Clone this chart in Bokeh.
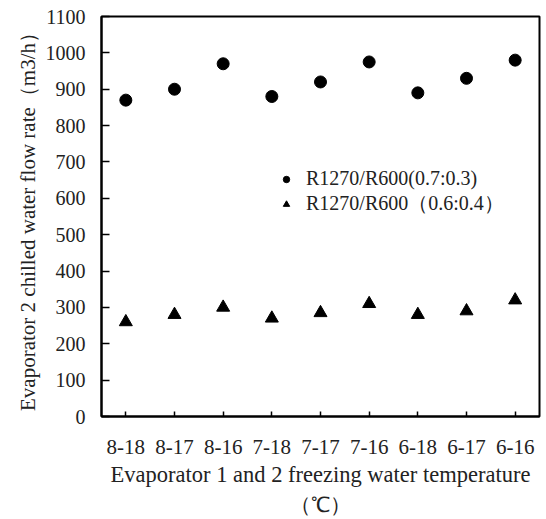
from bokeh.plotting import figure
from bokeh.models import FactorRange, Range1d, FixedTicker, Legend, LegendItem, ColumnDataSource, Title
from bokeh.embed import file_html
from bokeh.resources import INLINE

categories = ["8-18", "8-17", "8-16", "7-18", "7-17", "7-16", "6-18", "6-17", "6-16"]
series_a_name = "R1270/R600(0.7:0.3)"
series_a = [870, 900, 970, 880, 920, 975, 890, 930, 980]
series_b_name = "R1270/R600（0.6:0.4）"
series_b = [260, 280, 300, 270, 285, 310, 280, 290, 320]
y_ticks = [0, 100, 200, 300, 400, 500, 600, 700, 800, 900, 1000, 1100]
x_title_lines = ["Evaporator 1 and 2 freezing water temperature", "（℃）"]
y_title = "Evaporator 2 chilled water flow rate（m3/h）"

FONT = "Liberation Serif"
TXT = "#222222"

p = figure(width=546, height=519, output_backend="svg", toolbar_location=None,
           x_range=FactorRange(factors=categories, range_padding=0),
           y_range=Range1d(0, 1100),
           min_border_left=101, min_border_top=16, min_border_right=7, min_border_bottom=103)

src_a = ColumnDataSource(dict(x=categories, y=series_a))
src_b = ColumnDataSource(dict(x=categories, y=series_b))
ra = p.scatter("x", "y", source=src_a, marker="circle", size=12, color="black")
rb = p.scatter("x", "y", source=src_b, marker="triangle", size=13, color="black")

p.xgrid.visible = False
p.ygrid.visible = False
p.outline_line_color = "black"
p.outline_line_width = 2

p.yaxis.ticker = FixedTicker(ticks=y_ticks)
for ax in (p.xaxis[0], p.yaxis[0]):
    ax.axis_line_width = 2
    ax.axis_line_color = "black"
    ax.major_tick_line_color = "black"
    ax.major_tick_line_width = 1.5
    ax.major_tick_out = 0
    ax.minor_tick_line_color = None
    ax.major_label_text_font = FONT
    ax.major_label_text_color = TXT
    ax.axis_label_text_font = FONT
    ax.axis_label_text_font_style = "normal"
    ax.axis_label_text_color = TXT

p.yaxis.major_label_text_font_size = "20px"
p.yaxis.axis_label_text_font_size = "21px"
p.xaxis.major_label_text_font_size = "21px"

p.yaxis.major_tick_in = 8
p.yaxis.major_label_standoff = 16
p.yaxis.axis_label = y_title
p.yaxis.axis_label_standoff = 3

p.xaxis.major_tick_in = 5
p.xaxis.major_label_standoff = 23

# two-line x-axis title as stacked titles below the axis
t1 = Title(text=x_title_lines[0], align="center", offset=4, standoff=7,
           text_font=FONT, text_font_size="22.5px", text_font_style="normal", text_color=TXT)
t2 = Title(text=x_title_lines[1], align="center", offset=-3, standoff=0,
           text_font=FONT, text_font_size="21px", text_font_style="normal", text_color=TXT)
p.add_layout(t1, "below")
p.add_layout(t2, "below")

legend = Legend(items=[LegendItem(label=series_a_name, renderers=[ra]),
                       LegendItem(label=series_b_name, renderers=[rb])],
                location=(177, 199), padding=0, margin=0, spacing=0,
                glyph_width=16, glyph_height=22, label_height=22, label_standoff=12,
                label_text_font=FONT, label_text_font_size="20px", label_text_color=TXT,
                border_line_color=None, background_fill_alpha=0)
p.add_layout(legend)

open("out.html", "w").write(file_html(p, INLINE))
